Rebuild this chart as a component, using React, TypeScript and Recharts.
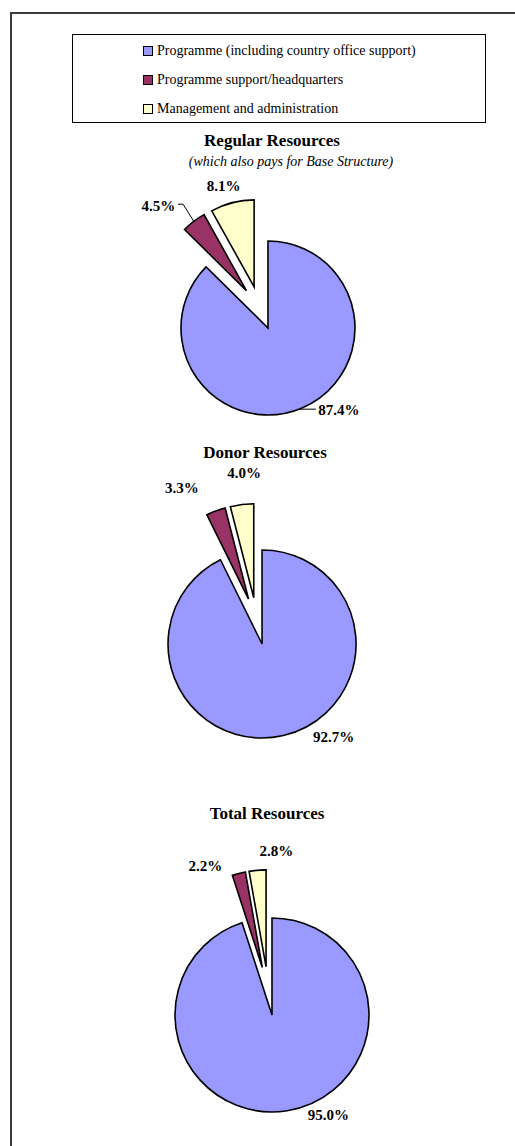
import React from 'react';
import { PieChart, Pie, Cell } from 'recharts';

const categories = [
  'Programme (including country office support)',
  'Programme support/headquarters',
  'Management and administration',
];
const regularValues = [87.4, 4.5, 8.1];
const donorValues = [92.7, 3.3, 4.0];
const totalValues = [95.0, 2.2, 2.8];
const pieTitles = ['Regular Resources', 'Donor Resources', 'Total Resources'];
const regularSubtitle = '(which also pays for Base Structure)';

const COLORS = ['#9999FF', '#993366', '#FFFFCC'];
const FONT = '"Liberation Serif", "Times New Roman", serif';

type Leader = 'none' | 'horizontal' | 'elbow';

interface PieSpec {
  values: number[];
  title: string;
  titleX: number;
  titleY: number;
  cx: number;
  cy: number;
  r: number;
  // nudges applied to the default radial label position
  labelShift: [number, number][];
  leaders: Leader[];
}

const PIES: PieSpec[] = [
  {
    values: regularValues,
    title: pieTitles[0],
    titleX: 272,
    titleY: 141,
    cx: 259.6,
    cy: 307.9,
    r: 87,
    labelShift: [[32, -11], [-27, -4], [-5, -3]],
    leaders: ['horizontal', 'elbow', 'none'],
  },
  {
    values: donorValues,
    title: pieTitles[1],
    titleX: 265,
    titleY: 453,
    cx: 256.7,
    cy: 621.1,
    r: 94,
    labelShift: [[47, -12], [-29, -10], [4, -18]],
    leaders: ['none', 'none', 'none'],
  },
  {
    values: totalValues,
    title: pieTitles[2],
    titleX: 267,
    titleY: 814,
    cx: 268.2,
    cy: 991.0,
    r: 97,
    labelShift: [[39, -10], [-30, 6], [20, -5]],
    leaders: ['none', 'none', 'none'],
  },
];

const EXPLODE = 0.25; // every slice pulled out by a quarter of the radius

const toRows = (values: number[]) =>
  values.map((value, i) => ({ name: categories[i], value }));

// Recharts angle convention: degrees counter-clockwise from 3 o'clock
const midAngle = (values: number[], i: number) => {
  const total = values.reduce((a, b) => a + b, 0);
  const before = values.slice(0, i).reduce((a, b) => a + b, 0);
  return 90 - (360 * (before + values[i] / 2)) / total;
};

const makeLabel = (spec: PieSpec, slice: number) => (props: any) => {
  if (props.index !== slice) return <g />;
  const { cx, cy, midAngle: mid, outerRadius, value } = props;
  const rad = (-mid * Math.PI) / 180;
  const [sx, sy] = spec.labelShift[slice];
  const x = cx + (outerRadius + 14) * Math.cos(rad) + sx;
  const y = cy + (outerRadius + 14) * Math.sin(rad) + sy;
  const text = `${Number(value).toFixed(1)}%`;
  const half = text.length * 4.2;
  const leader = spec.leaders[slice];
  let line = null;
  if (leader === 'horizontal') {
    const ly = y - 1;
    const dy = ly - cy;
    const arcX = cx + Math.sqrt(Math.max(outerRadius * outerRadius - dy * dy, 0));
    line = <line x1={x - half - 2} y1={ly} x2={arcX} y2={ly} stroke="#000" strokeWidth={1} />;
  } else if (leader === 'elbow') {
    const ax = cx + outerRadius * Math.cos(rad);
    const ay = cy + outerRadius * Math.sin(rad);
    line = (
      <polyline
        points={`${ax},${ay} ${x + half + 8},${y - 2} ${x + half + 3},${y - 2}`}
        fill="none"
        stroke="#000"
        strokeWidth={1}
      />
    );
  }
  return (
    <g>
      {line}
      <text
        x={x}
        y={y}
        textAnchor="middle"
        dominantBaseline="central"
        fontFamily={FONT}
        fontWeight="bold"
        fontSize={15}
        fill="#000"
      >
        {text}
      </text>
    </g>
  );
};

const Legend = () => (
  <div
    style={{
      position: 'absolute',
      left: 72,
      top: 34,
      width: 412,
      height: 87,
      border: '1px solid #000',
      background: '#fff',
      fontFamily: FONT,
      fontSize: 14,
    }}
  >
    {categories.map((c, i) => (
      <div
        key={c}
        style={{
          position: 'absolute',
          left: 70,
          top: 7 + i * 29,
          height: 18,
          lineHeight: '18px',
          display: 'flex',
          alignItems: 'center',
          whiteSpace: 'nowrap',
        }}
      >
        <span
          style={{
            display: 'inline-block',
            width: 8,
            height: 8,
            background: COLORS[i],
            border: '1px solid #000',
            marginRight: 4,
          }}
        />
        {c}
      </div>
    ))}
  </div>
);

const Title = ({ text, x, y, size, italic, bold }: any) => (
  <div
    style={{
      position: 'absolute',
      left: x - 200,
      top: y - size / 2 - 1,
      width: 400,
      textAlign: 'center',
      fontFamily: FONT,
      fontSize: size,
      lineHeight: `${size}px`,
      fontWeight: bold ? 'bold' : 'normal',
      fontStyle: italic ? 'italic' : 'normal',
      whiteSpace: 'nowrap',
    }}
  >
    {text}
  </div>
);

export default function App() {
  return (
    <div
      style={{
        position: 'absolute',
        left: 0,
        top: 0,
        width: 515,
        height: 1146,
        background: '#fff',
        overflow: 'hidden',
      }}
    >
      <div
        style={{
          position: 'absolute',
          left: 10,
          top: 12,
          width: 520,
          height: 1150,
          borderTop: '2px solid #3a3a3a',
          borderLeft: '2px solid #3a3a3a',
        }}
      />
      <Legend />
      {PIES.map((p) => (
        <Title key={p.title} text={p.title} x={p.titleX} y={p.titleY} size={17} bold />
      ))}
      <Title text={regularSubtitle} x={291} y={163} size={14} italic />
      <div style={{ position: 'absolute', left: 0, top: 0 }}>
        <PieChart width={515} height={1146} margin={{ top: 0, right: 0, bottom: 0, left: 0 }}>
          {PIES.flatMap((p, pi) =>
            p.values.map((_, si) => {
              const mid = (midAngle(p.values, si) * Math.PI) / 180;
              const e = EXPLODE * p.r;
              return (
                <Pie
                  key={`${pi}-${si}`}
                  data={toRows(p.values)}
                  dataKey="value"
                  nameKey="name"
                  cx={p.cx + e * Math.cos(mid)}
                  cy={p.cy - e * Math.sin(mid)}
                  outerRadius={p.r}
                  startAngle={90}
                  endAngle={-270}
                  label={makeLabel(p, si)}
                  labelLine={false}
                  isAnimationActive={false}
                >
                  {p.values.map((__, ci) => (
                    <Cell
                      key={ci}
                      fill={ci === si ? COLORS[ci] : 'none'}
                      stroke={ci === si ? '#000' : 'none'}
                      strokeWidth={1.6}
                    />
                  ))}
                </Pie>
              );
            })
          )}
        </PieChart>
      </div>
    </div>
  );
}
